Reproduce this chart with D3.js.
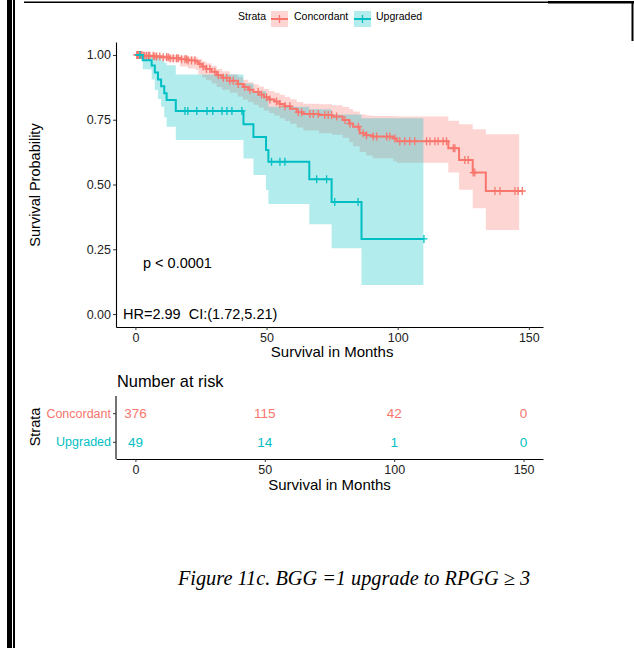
<!DOCTYPE html>
<html lang="en">
<head>
<meta charset="UTF-8">
<title>KM curve</title>
<script src="https://cdn.jsdelivr.net/npm/d3@7/dist/d3.min.js"></script>
<style>
  body { margin: 0; background: #fff; }
  text { font-family: "Liberation Sans", Arial, sans-serif; }
</style>
</head>
<body>
<script>
// page size
var w = 634;
var h = 648;

// strata and colours
var strata = ["Concordant", "Upgraded"];
var colors = ["#F8766D", "#00BFC4"];

// axis ticks
var timeTicks = [0, 50, 100, 150];
var survTicks = [0, 0.25, 0.5, 0.75, 1];

// number at risk, at timeTicks
var riskConc = [376, 115, 42, 0];
var riskUpg = [49, 14, 1, 0];

// Concordant curve: step times, survival, CI upper / lower
var concTime = [0, 3, 7, 10, 13, 17, 20, 23, 24, 25.5, 27, 29, 31, 33, 36, 39, 41, 43, 45, 47, 49, 51, 53, 55, 57, 59, 61.5, 64, 70, 75, 79, 81.5, 83, 85.5, 88, 90.5, 98.3, 99.6, 119.3, 123.4, 128.6, 133.6];
var concSurv = [1, .997, .994, .991, .987, .983, .979, .974, .965, .955, .946, .935, .922, .912, .900, .888, .876, .866, .857, .847, .837, .828, .820, .811, .802, .792, .779, .772, .768, .762, .749, .735, .723, .698, .690, .685, .678, .667, .640, .595, .546, .475];
var concUpper = [1, 1, 1, 1, 1, .997, .994, .99, .984, .976, .968, .958, .946, .937, .926, .915, .904, .895, .887, .878, .869, .861, .854, .846, .838, .829, .818, .812, .810, .806, .799, .79, .782, .77, .766, .764, .763, .762, .746, .733, .713, .694];
var concLower = [1, .99, .985, .98, .972, .955, .948, .942, .925, .913, .902, .89, .876, .866, .854, .84, .828, .818, .808, .797, .786, .776, .766, .756, .745, .734, .72, .708, .698, .692, .68, .663, .648, .625, .612, .601, .59, .584, .546, .48, .408, .324];
var concEnd = 147.5;
var concBandEnd = 146.3;
var concCens = [0.5, 0.8, 1.1, 1.8, 2.0, 2.4, 3.0, 3.6, 4.3, 5.0, 5.5, 6.8, 7.4, 8.1, 9.3, 10.6, 11.9, 12.5, 13.2, 14.4, 15.7, 16.3, 17.6, 18.9, 19.5, 20.1, 21.4, 22.7, 24.6, 25.8, 27.1, 28.4, 30.3, 31.6, 33.5, 34.8, 36.0, 37.3, 39.2, 41.7, 43.7, 46.8, 48.1, 50.0, 51.3, 53.8, 55.1, 57.0, 58.9, 62.1, 63.4, 66.5, 67.8, 69.7, 72.2, 73.5, 74.8, 76.7, 79.9, 81.8, 85.0, 86.8, 88.1, 90.7, 92.0, 95.8, 97.0, 98.9, 100.8, 102.7, 104.6, 106.5, 111.0, 112.3, 114.2, 115.4, 117.3, 118.6, 121.2, 121.8, 125.6, 126.9, 128.8, 129.4, 137.1, 139.0, 144.7, 145.9, 147.5];

// Upgraded curve
var upgTime = [0, 2.8, 6.2, 7.4, 8.6, 9.8, 11.0, 11.9, 15.4, 41.2, 45.0, 49.8, 50.7, 66.3, 74.8, 86.2];
var upgSurv = [1, .980, .959, .932, .905, .879, .852, .826, .784, .733, .683, .633, .588, .520, .432, .290];
var upgUpper = [1, 1, 1, 1, .99, .98, .97, .96, .925, .89, .86, .83, .80, .79, .77, .756];
var upgLower = [1, .945, .905, .865, .83, .80, .76, .723, .672, .60, .537, .479, .425, .347, .254, .112];
var upgEnd = 110;
var upgBandEnd = 109.8;
var upgCens = [1.7, 18.9, 20.0, 23.4, 27.3, 29.5, 33.0, 34.9, 36.8, 40.6, 51.9, 55.1, 57.0, 69.1, 72.9, 76.0, 84.9, 110];

var svg = d3.select("body").append("svg")
    .attr("width", w)
    .attr("height", h);

// page frame lines
svg.append("rect").attr("x", 7).attr("y", 0).attr("width", 5).attr("height", h).attr("fill", "#000");
svg.append("rect").attr("x", 13).attr("y", 0).attr("width", 2).attr("height", h).attr("fill", "#000");
svg.append("rect").attr("x", 24).attr("y", 1.5).attr("width", w - 24).attr("height", 1.5).attr("fill", "#000");
svg.append("rect").attr("x", 548).attr("y", 1).attr("width", w - 548).attr("height", 2.5).attr("fill", "#000");
svg.append("rect").attr("x", 631.5).attr("y", 1).attr("width", 2).attr("height", 40).attr("fill", "#000");

// scales for survival plot
var x = d3.scaleLinear().domain([-7.4, 155.4]).range([116, 543]);
var y = d3.scaleLinear().domain([-0.05, 1.05]).range([327, 42]);

function pts(time, vals, end) {
    var p = time.map(function(t, i) { return [t, vals[i]]; });
    p.push([end, vals[vals.length - 1]]);
    return p;
}

function bandPts(time, lo, hi, end) {
    var p = time.map(function(t, i) { return [t, lo[i], hi[i]]; });
    p.push([end, lo[lo.length - 1], hi[hi.length - 1]]);
    return p;
}

var area = d3.area()
    .curve(d3.curveStepAfter)
    .x(function(d) { return x(d[0]); })
    .y0(function(d) { return y(d[1]); })
    .y1(function(d) { return y(d[2]); });

var line = d3.line()
    .curve(d3.curveStepAfter)
    .x(function(d) { return x(d[0]); })
    .y(function(d) { return y(d[1]); });

var curves = [
    {time: concTime, surv: concSurv, up: concUpper, lo: concLower, end: concEnd, bandEnd: concBandEnd, cens: concCens},
    {time: upgTime, surv: upgSurv, up: upgUpper, lo: upgLower, end: upgEnd, bandEnd: upgBandEnd, cens: upgCens}
];

// confidence bands
curves.forEach(function(c, i) {
    svg.append("path")
        .attr("d", area(bandPts(c.time, c.lo, c.up, c.bandEnd)))
        .attr("fill", colors[i])
        .attr("fill-opacity", 0.3);
});

// curves and censor marks
var plus = "M-3.5,0H3.5M0,-4V4";
curves.forEach(function(c, i) {
    svg.append("path")
        .attr("d", line(pts(c.time, c.surv, c.end)))
        .attr("fill", "none")
        .attr("stroke", colors[i])
        .attr("stroke-width", 2);
    svg.selectAll(null)
        .data(c.cens)
        .enter()
        .append("path")
        .attr("d", plus)
        .attr("transform", function(t) {
            var k = d3.bisectRight(c.time, t) - 1;
            return "translate(" + x(t) + "," + y(c.surv[k]) + ")";
        })
        .attr("stroke", colors[i])
        .attr("stroke-width", 1.3)
        .attr("fill", "none");
});

// axes
var yAxis = svg.append("g")
    .attr("transform", "translate(116,0)")
    .call(d3.axisLeft(y).tickValues(survTicks).tickFormat(d3.format(".2f")).tickSize(3).tickSizeOuter(0).tickPadding(2));
var xAxis = svg.append("g")
    .attr("transform", "translate(0,327)")
    .call(d3.axisBottom(x).tickValues(timeTicks).tickSize(3).tickSizeOuter(0).tickPadding(3));

[yAxis, xAxis].forEach(function(g) {
    g.select(".domain").attr("stroke", "#000").attr("stroke-width", 1.1);
    g.selectAll(".tick line").attr("stroke", "#333");
    g.selectAll(".tick text").attr("fill", "#222").attr("font-size", "12.5px").attr("font-family", "Liberation Sans, Arial, sans-serif");
});

svg.append("text")
    .attr("transform", "translate(40,185) rotate(-90)")
    .attr("text-anchor", "middle")
    .attr("font-size", "14.5px")
    .text("Survival Probability");

svg.append("text")
    .attr("x", x(75)).attr("y", 357)
    .attr("text-anchor", "middle")
    .attr("font-size", "15px")
    .text("Survival in Months");

// p-value and HR
svg.append("text")
    .attr("x", 143).attr("y", 268)
    .attr("font-size", "14.5px")
    .text("p < 0.0001");
svg.append("text")
    .attr("x", 123).attr("y", 319)
    .attr("font-size", "14.5px")
    .attr("xml:space", "preserve")
    .style("white-space", "pre")
    .text("HR=2.99  CI:(1.72,5.21)");

// legend
var lg = svg.append("g");
lg.append("text").attr("x", 238).attr("y", 20).attr("font-size", "10.5px").text("Strata");
var keyX = [271, 354];
var keyTextX = [294, 376];
strata.forEach(function(s, i) {
    lg.append("rect").attr("x", keyX[i]).attr("y", 11).attr("width", 17).attr("height", 16)
        .attr("fill", colors[i]).attr("fill-opacity", 0.3);
    lg.append("line").attr("x1", keyX[i]).attr("x2", keyX[i] + 17).attr("y1", 19).attr("y2", 19)
        .attr("stroke", colors[i]).attr("stroke-width", 2);
    lg.append("path").attr("d", plus).attr("transform", "translate(" + (keyX[i] + 8.5) + ",19)")
        .attr("stroke", colors[i]).attr("stroke-width", 1.3);
    lg.append("text").attr("x", keyTextX[i]).attr("y", 20).attr("font-size", "10.5px").text(s);
});

// risk table
var xr = d3.scaleLinear().domain([-7.5, 157.5]).range([116, 543]);
var yr = d3.scalePoint().domain(strata).range([396, 459]).padding(0.6);

svg.append("text")
    .attr("x", 117).attr("y", 387)
    .attr("font-size", "16.4px")
    .text("Number at risk");

var risks = [riskConc, riskUpg];
strata.forEach(function(s, i) {
    svg.selectAll(null)
        .data(risks[i])
        .enter()
        .append("text")
        .attr("x", function(d, j) { return xr(timeTicks[j]); })
        .attr("y", yr(s))
        .attr("dy", "0.35em")
        .attr("text-anchor", "middle")
        .attr("font-size", "13.5px")
        .attr("fill", colors[i])
        .text(function(d) { return d; });
});

var ryAxis = svg.append("g")
    .attr("transform", "translate(116,0)")
    .call(d3.axisLeft(yr).tickSize(3).tickSizeOuter(0).tickPadding(2));
ryAxis.select(".domain").attr("d", "M0,396V459").attr("stroke", "#000").attr("stroke-width", 1.1);
ryAxis.selectAll(".tick line").attr("stroke", "#333");
ryAxis.selectAll(".tick text")
    .attr("font-size", "12.5px")
    .attr("font-family", "Liberation Sans, Arial, sans-serif")
    .attr("fill", function(d, i) { return colors[i]; });

var rxAxis = svg.append("g")
    .attr("transform", "translate(0,459)")
    .call(d3.axisBottom(xr).tickValues(timeTicks).tickSize(3).tickSizeOuter(0).tickPadding(3));
rxAxis.select(".domain").attr("stroke", "#000").attr("stroke-width", 1.1);
rxAxis.selectAll(".tick line").attr("stroke", "#333");
rxAxis.selectAll(".tick text").attr("fill", "#222").attr("font-size", "12.5px").attr("font-family", "Liberation Sans, Arial, sans-serif");

svg.append("text")
    .attr("transform", "translate(40,427) rotate(-90)")
    .attr("text-anchor", "middle")
    .attr("font-size", "14.5px")
    .text("Strata");

svg.append("text")
    .attr("x", xr(75)).attr("y", 490)
    .attr("text-anchor", "middle")
    .attr("font-size", "15px")
    .text("Survival in Months");

// caption
svg.append("text")
    .attr("x", 354).attr("y", 585)
    .attr("text-anchor", "middle")
    .attr("font-size", "20.3px")
    .attr("font-style", "italic")
    .style("font-family", "'Liberation Serif', 'Times New Roman', serif")
    .text("Figure 11c. BGG =1 upgrade to RPGG \u2265 3");
</script>
</body>
</html>
